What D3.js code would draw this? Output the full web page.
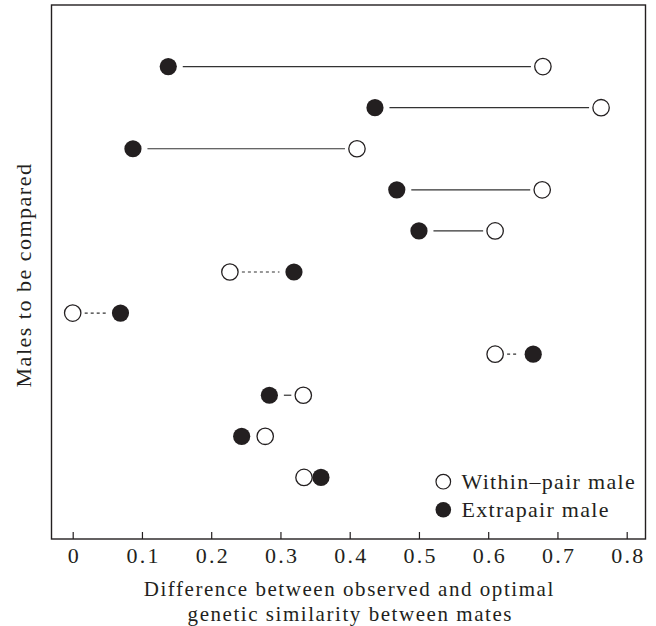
<!DOCTYPE html>
<html>
<head>
<meta charset="utf-8">
<script src="https://cdn.jsdelivr.net/npm/d3@7"></script>
<style>
  body { margin: 0; background: #fff; }
  svg text { font-family: "Liberation Serif", "Times New Roman", serif; fill: #231f20; }
</style>
</head>
<body>
<svg id="chart" width="656" height="626"></svg>
<script>
// Data
const rows = ["1","2","3","4","5","6","7","8","9","10","11"];
const withinPair = [0.679, 0.763, 0.4105, 0.678, 0.61, 0.227, 0.0, 0.61, 0.333, 0.278, 0.334];
const extrapair  = [0.138, 0.4365, 0.087, 0.468, 0.5, 0.3195, 0.069, 0.665, 0.284, 0.244, 0.3585];
// line style between the pair: "solid", "dotted" or "none"
const connector  = ["solid","solid","solid","solid","solid","dotted","dotted","dotted","solid","none","none"];
const xTicks = [0, 0.1, 0.2, 0.3, 0.4, 0.5, 0.6, 0.7, 0.8];
const legendLabels = ["Within\u2013pair male", "Extrapair male"];
const xTitle = ["Difference between observed and optimal", "genetic similarity between mates"];
const yTitle = "Males to be compared";

const svg = d3.select("#chart");
const frame = {left: 51.5, right: 645.5, top: 5, bottom: 539};
const ink = "#231f20";

const x = d3.scaleLinear().domain([0, 0.8]).range([72.7, 626.7]);
const y = d3.scalePoint().domain(rows).range([frame.top, frame.bottom]).padding(1.5);

// frame
svg.append("rect")
  .attr("x", frame.left).attr("y", frame.top)
  .attr("width", frame.right - frame.left).attr("height", frame.bottom - frame.top)
  .attr("fill", "none").attr("stroke", ink).attr("stroke-width", 1.4);

// x axis (ticks pointing inward)
const xAxis = d3.axisBottom(x).tickValues(xTicks).tickSize(-7).tickPadding(8.5)
  .tickFormat(d => d === 0 ? "0" : d3.format(".1f")(d));
const gx = svg.append("g").attr("transform", `translate(0,${frame.bottom})`).call(xAxis);
gx.select(".domain").remove();
gx.selectAll(".tick line").attr("stroke", ink).attr("stroke-width", 1.2);
gx.selectAll(".tick text").attr("font-size", 22).attr("fill", ink)
  .attr("font-family", "Liberation Serif, serif")
  .attr("letter-spacing", 2.2).attr("dx", 1.1);

// axis titles
svg.append("text").attr("x", 349.3).attr("y", 596).attr("text-anchor", "middle")
  .attr("font-size", 21).attr("letter-spacing", 1.55).text(xTitle[0]);
svg.append("text").attr("x", 350.3).attr("y", 620.5).attr("text-anchor", "middle")
  .attr("font-size", 21).attr("letter-spacing", 1.55).text(xTitle[1]);
svg.append("text").attr("transform", "translate(30.5,275) rotate(-90)").attr("text-anchor", "middle")
  .attr("font-size", 22).attr("letter-spacing", 1.5).text(yTitle);

const r = 8.2;
const offFilled = 14.5, offOpen = 12;

// connectors
const data = rows.map((d, i) => ({row: d, w: withinPair[i], e: extrapair[i], c: connector[i]}));
svg.append("g").selectAll("line")
  .data(data.filter(d => d.c !== "none"))
  .join("line")
  .attr("x1", d => d.e < d.w ? x(d.e) + offFilled : x(d.w) + offOpen)
  .attr("x2", d => d.e < d.w ? x(d.w) - offOpen : x(d.e) - offFilled)
  .attr("y1", d => y(d.row)).attr("y2", d => y(d.row))
  .attr("stroke", "#333").attr("stroke-width", 1.2)
  .attr("stroke-dasharray", d => d.c === "dotted" ? "3,3" : null);

// within-pair (open)
svg.append("g").selectAll("circle")
  .data(data).join("circle")
  .attr("cx", d => x(d.w)).attr("cy", d => y(d.row)).attr("r", r)
  .attr("fill", "#fff").attr("stroke", ink).attr("stroke-width", 1.3);

// extrapair (filled)
svg.append("g").selectAll("circle")
  .data(data).join("circle")
  .attr("cx", d => x(d.e)).attr("cy", d => y(d.row)).attr("r", r + 0.4)
  .attr("fill", ink);

// legend
const lg = svg.append("g");
lg.append("circle").attr("cx", 443.3).attr("cy", 481.7).attr("r", 7.3)
  .attr("fill", "#fff").attr("stroke", ink).attr("stroke-width", 1.2);
lg.append("circle").attr("cx", 443.3).attr("cy", 509.7).attr("r", 7.8).attr("fill", ink);
lg.append("text").attr("x", 461.5).attr("y", 488.5).attr("font-size", 22).attr("letter-spacing", 1.3).text(legendLabels[0]);
lg.append("text").attr("x", 461.5).attr("y", 516.5).attr("font-size", 22).attr("letter-spacing", 1.3).text(legendLabels[1]);
</script>
</body>
</html>
